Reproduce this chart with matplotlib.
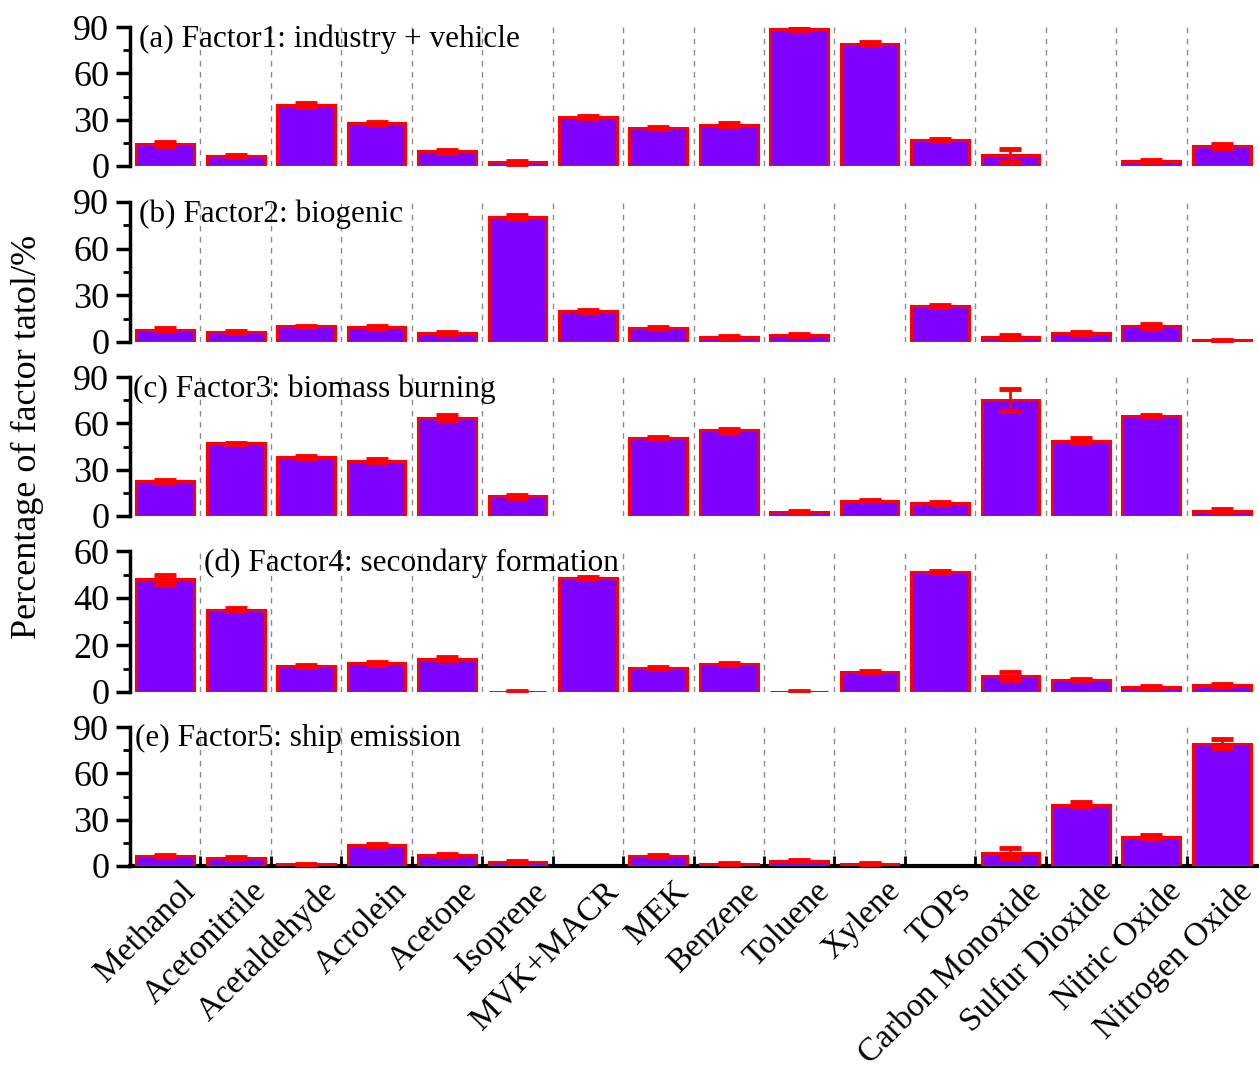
import numpy as np
import matplotlib
matplotlib.use("Agg")
import matplotlib.pyplot as plt
from matplotlib.ticker import MultipleLocator, FixedLocator
import matplotlib.transforms as mtransforms

plt.rcParams['font.family'] = ['Liberation Serif', 'DejaVu Serif']

categories = ["Methanol", "Acetonitrile", "Acetaldehyde", "Acrolein", "Acetone",
              "Isoprene", "MVK+MACR", "MEK", "Benzene", "Toluene", "Xylene", "TOPs",
              "Carbon Monoxide", "Sulfur Dioxide", "Nitric Oxide", "Nitrogen Oxide"]

factor1 = [14.3, 6.2, 39.5, 28.0, 9.5, 2.4, 31.7, 24.5, 26.8, 88.9, 79.3, 16.8, 7.0, 0.0, 3.3, 13.0]
factor1_err = [1.5, 0.6, 1.0, 0.8, 1.0, 0.8, 0.6, 0.5, 0.8, 0.6, 1.0, 0.6, 4.3, 0.0, 0.5, 1.2]

factor2 = [8.0, 6.2, 10.0, 9.5, 6.0, 80.4, 20.0, 9.0, 3.2, 4.5, 0.0, 23.2, 3.2, 5.5, 10.2, 1.1]
factor2_err = [1.0, 0.6, 0.6, 0.8, 0.6, 1.0, 0.6, 0.8, 0.5, 0.5, 0.0, 0.6, 1.5, 0.8, 1.2, 0.2]

factor3 = [22.4, 47.0, 38.0, 35.9, 63.6, 12.7, 0.0, 50.5, 55.4, 2.6, 9.9, 8.4, 75.2, 48.8, 64.7, 3.5]
factor3_err = [0.8, 0.5, 0.8, 0.8, 1.5, 0.8, 0.0, 0.6, 0.8, 0.6, 0.5, 0.8, 7.3, 1.5, 0.8, 0.8]

factor4 = [47.9, 35.1, 11.1, 12.2, 14.1, 0.2, 48.4, 10.4, 11.8, 0.2, 8.5, 51.2, 6.8, 5.3, 2.0, 3.0]
factor4_err = [2.0, 0.5, 0.4, 0.5, 0.6, 0.1, 0.5, 0.4, 0.5, 0.1, 0.4, 0.4, 1.8, 0.4, 0.4, 0.4]

factor5 = [6.4, 5.1, 1.1, 13.5, 7.1, 2.6, 0.0, 6.2, 1.5, 3.4, 1.5, 0.0, 8.4, 39.7, 19.1, 79.3]
factor5_err = [0.8, 0.8, 0.4, 0.8, 0.8, 0.6, 0.0, 0.6, 0.3, 0.3, 0.3, 0.0, 3.2, 1.5, 1.0, 3.0]

panel_titles = ["(a) Factor1: industry + vehicle", "(b) Factor2: biogenic",
                "(c) Factor3: biomass burning", "(d) Factor4: secondary formation",
                "(e) Factor5: ship emission"]
panel_ymax = [90, 90, 90, 60, 90]
panel_major = [30, 30, 30, 20, 30]

series = [factor1, factor2, factor3, factor4, factor5]
errors = [factor1_err, factor2_err, factor3_err, factor4_err, factor5_err]

W, H = 1259, 1077
fig = plt.figure(figsize=(W / 100, H / 100), dpi=100)

left = 130 / W
right = 1257 / W
panels_px = [(27, 166), (202, 342), (377, 516), (551, 692), (727, 866)]
title_x = [0.008, 0.008, 0.003, 0.066, 0.004]

n = len(categories)
x = np.arange(n)

for i, (top_px, bot_px) in enumerate(panels_px):
    ax = fig.add_axes([left, 1 - bot_px / H, right - left, (bot_px - top_px) / H])
    vals = np.array(series[i], dtype=float)
    errs = np.array(errors[i], dtype=float)
    mask = vals > 0
    ax.bar(x[mask], vals[mask], width=0.82, color='#8000FF', edgecolor='#FF0000',
           linewidth=2.2, zorder=3)
    emask = mask & (errs > 0)
    ax.errorbar(x[emask], vals[emask], yerr=errs[emask], fmt='none', ecolor='#FF0000',
                elinewidth=2.0, capsize=8, capthick=3.5, zorder=4)
    ax.set_xlim(-0.5, n - 0.5)
    ax.set_ylim(0, panel_ymax[i])
    for b in np.arange(0.5, n - 0.5, 1.0):
        ax.axvline(b, color='#8c8c8c', linestyle=(0, (4, 4)), linewidth=1.0, zorder=1)
    for s in ['top', 'right']:
        ax.spines[s].set_visible(False)
    ax.spines['left'].set_linewidth(2.5)
    ax.yaxis.set_major_locator(MultipleLocator(panel_major[i]))
    ax.yaxis.set_minor_locator(MultipleLocator(panel_major[i] / 2))
    ax.tick_params(axis='y', which='major', direction='out', length=10, width=2.5,
                   labelsize=26, pad=5)
    ax.tick_params(axis='y', which='minor', direction='out', length=5, width=2.0)
    ax.text(title_x[i], 1.02, panel_titles[i], transform=ax.transAxes, ha='left',
            va='top', fontsize=22.5, zorder=5)
    if i < 4:
        ax.spines['bottom'].set_visible(False)
        ax.set_xticks([])
    else:
        ax.spines['bottom'].set_linewidth(3)
        ax.set_xticks(x)
        ax.xaxis.set_minor_locator(FixedLocator(np.arange(0.5, n - 0.5, 1.0)))
        ax.tick_params(axis='x', which='major', length=0, pad=2)
        ax.tick_params(axis='x', which='minor', direction='in', length=7, width=2)
        offset = mtransforms.ScaledTranslation(15 / 100, -7 / 100, fig.dpi_scale_trans)
        labels = ax.set_xticklabels(categories, rotation=45, ha='right', va='top',
                                    rotation_mode='anchor', fontsize=24)
        for lab in labels:
            lab.set_transform(lab.get_transform() + offset)

fig.text(27 / W, 1 - 437 / H, "Percentage of factor tatol/%", rotation=90,
         ha='center', va='center', fontsize=26)

fig.savefig("out.png", dpi=100)
